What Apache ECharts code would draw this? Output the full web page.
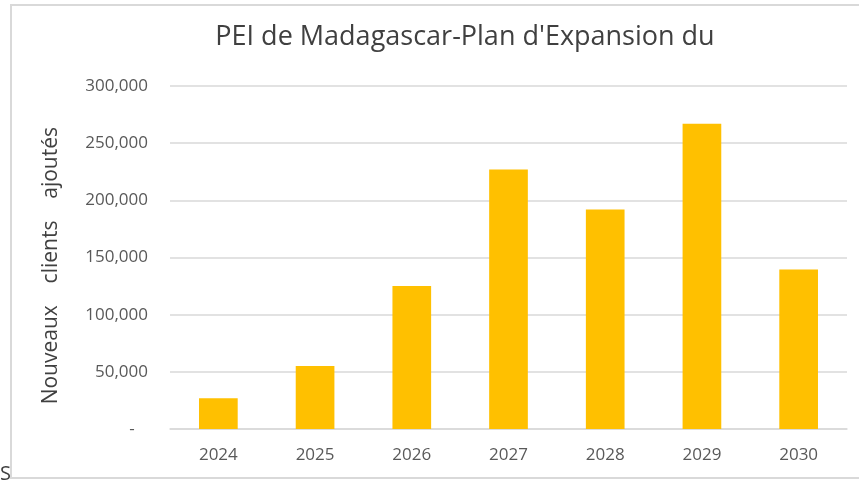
<!DOCTYPE html>
<html>
<head>
<meta charset="utf-8">
<script src="https://cdn.jsdelivr.net/npm/echarts@6/dist/echarts.min.js"></script>
<style>
  html, body { margin: 0; padding: 0; background: #fff; }
  #chart { width: 859px; height: 480px; }
</style>
</head>
<body>
<div id="chart"></div>
<script>
// données
const years = ['2024', '2025', '2026', '2027', '2028', '2029', '2030'];
const nouveauxClients = [27000, 55000, 125000, 227000, 192000, 267000, 139500];
const yTicks = [0, 50000, 100000, 150000, 200000, 250000, 300000];

const chart = echarts.init(document.getElementById('chart'));

// format comptable : zéro affiché comme un tiret
const fmt = (v) => v === 0 ? '-   ' : v.toLocaleString('en-US');

const option = {
    animation: false,
    backgroundColor: '#fff',
    title: {
        text: "PEI de Madagascar-Plan d'Expansion du",
        left: 460,
        top: 19,
        textAlign: 'center',
        textStyle: {
            fontFamily: '"Open Sans", sans-serif',
            fontWeight: 'normal',
            fontSize: 27,
            color: '#404040'
        }
    },
    grid: {
        left: 170,
        right: 12,
        top: 86,
        bottom: 51
    },
    xAxis: {
        type: 'category',
        data: years,
        axisLine: { lineStyle: { color: '#d9d9d9', width: 1.5 } },
        axisTick: { show: false },
        axisLabel: {
            margin: 18,
            fontSize: 17,
            color: '#595959',
            fontFamily: '"Open Sans", sans-serif'
        }
    },
    yAxis: {
        type: 'value',
        min: yTicks[0],
        max: yTicks[yTicks.length - 1],
        interval: yTicks[1] - yTicks[0],
        name: 'Nouveaux    clients    ajoutés   ',
        nameLocation: 'middle',
        nameGap: 108,
        nameTextStyle: {
            fontSize: 21,
            color: '#404040',
            fontFamily: '"Open Sans", sans-serif'
        },
        axisLine: { show: false },
        axisTick: { show: false },
        splitLine: { lineStyle: { color: '#d9d9d9', width: 1.5 } },
        axisLabel: {
            margin: 22,
            fontSize: 17,
            color: '#595959',
            fontFamily: '"Open Sans", sans-serif',
            formatter: fmt
        }
    },
    series: [{
        type: 'bar',
        data: nouveauxClients,
        barWidth: '40%',
        itemStyle: { color: '#FFC000' }
    }],
    graphic: [
        {
            type: 'rect',
            shape: { x: 11, y: 5, width: 900, height: 473 },
            style: { fill: 'none', stroke: '#d9d9d9', lineWidth: 2 },
            silent: true
        },
        {
            type: 'text',
            left: 0,
            top: 464,
            style: {
                text: 'S',
                fontSize: 20,
                fill: '#404040',
                fontFamily: '"Open Sans", sans-serif'
            }
        }
    ]
};

chart.setOption(option);
window.addEventListener('resize', () => chart.resize());
</script>
</body>
</html>
